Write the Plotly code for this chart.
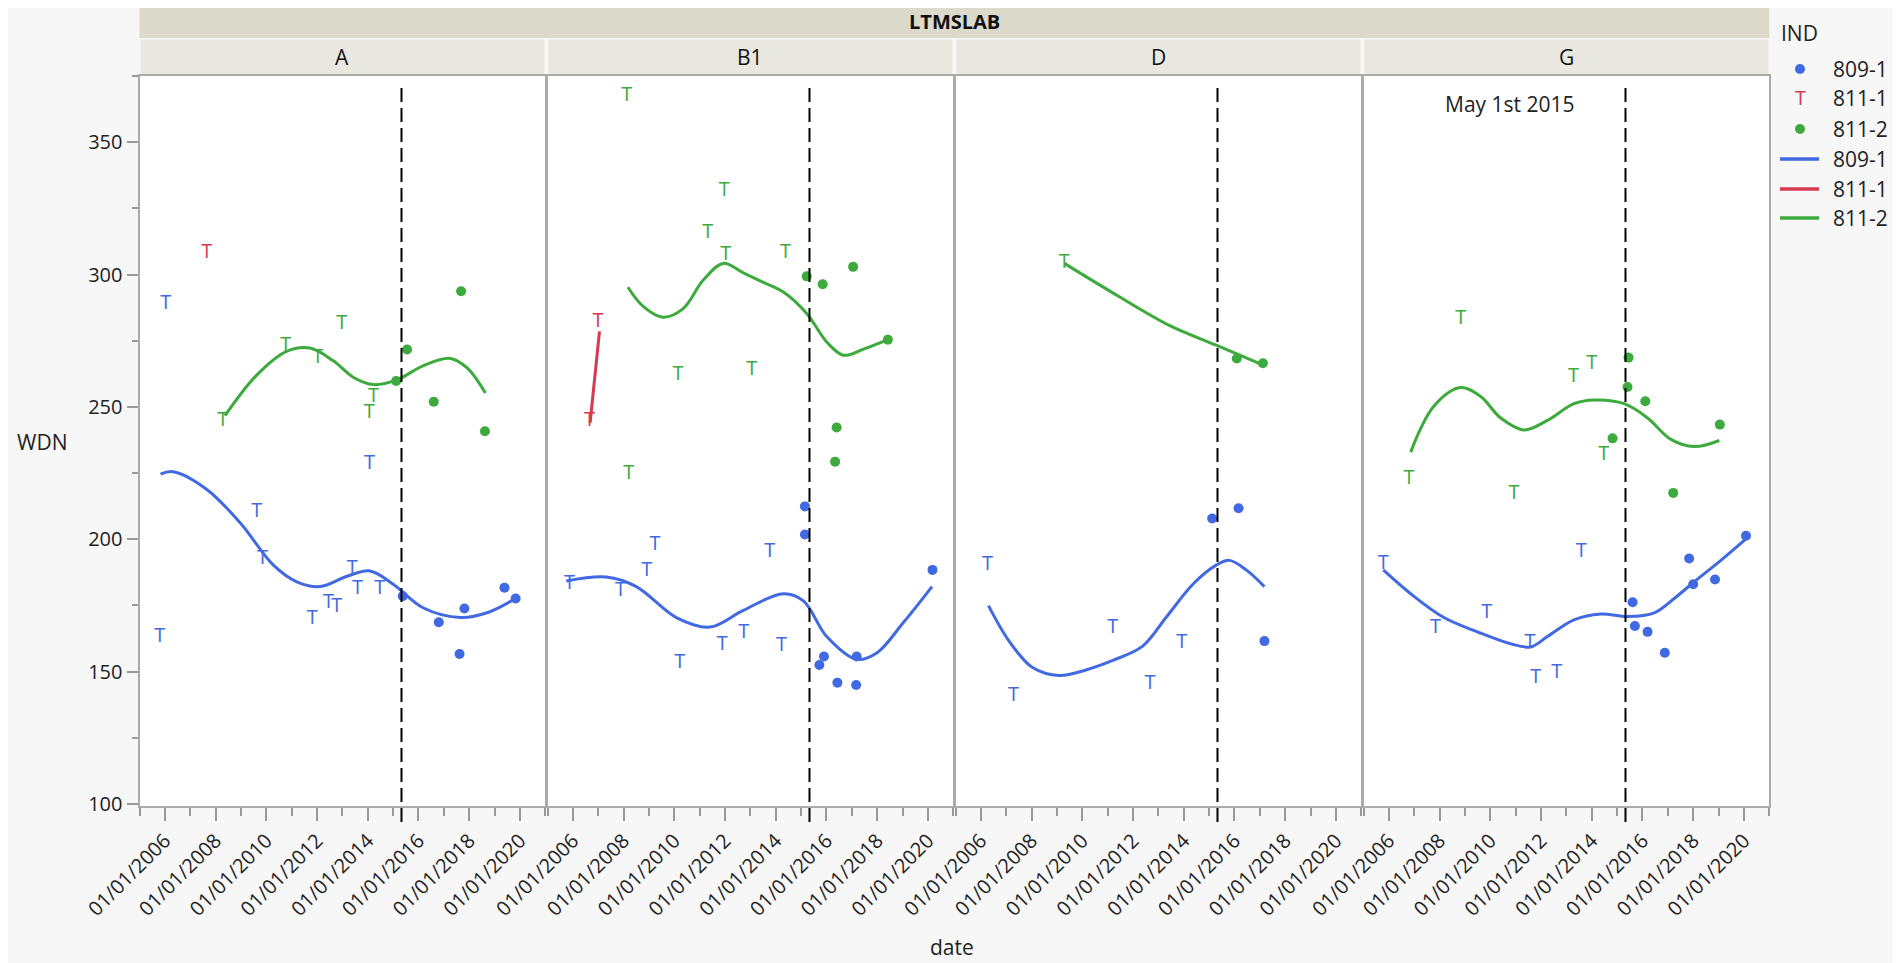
import plotly.graph_objects as go

# page is 1901x963; the html body adds an 8px margin, so the figure is a bit smaller
PAGE_W, PAGE_H, OFF = 1901, 963, 8
W, H = PAGE_W - OFF, PAGE_H - OFF

panel_names = ["A", "B1", "D", "G"]
tick_years = [2006, 2008, 2010, 2012, 2014, 2016, 2018, 2020]
tick_text = ["01/01/%d" % y for y in tick_years]
may_1_2015 = 2015.33

blue = "#4169e1"
red = "#d63a50"
green = "#3caa3c"

# ---- panel A ----
a_809_t_x = [2006.04, 2005.80, 2009.62, 2009.85, 2011.81, 2012.45, 2012.78, 2013.39, 2013.60, 2014.47, 2014.07]
a_809_t_y = [288.9, 163.2, 210.3, 192.5, 169.9, 175.8, 174.4, 188.9, 181.2, 181.2, 228.6]
a_809_dot_x = [2015.38, 2016.80, 2017.62, 2017.81, 2019.39, 2019.83]
a_809_dot_y = [178.5, 168.6, 156.6, 173.8, 181.7, 177.6]
a_809_fit_x = [2005.83, 2006.33, 2007.64, 2008.96, 2010.28, 2011.2, 2012.12, 2013.18, 2014.09, 2015.0, 2016.2, 2017.65, 2018.7, 2019.83]
a_809_fit_y = [224.6, 225.5, 218.9, 206.3, 190.2, 183.9, 182.1, 186.0, 188.0, 183.0, 174.0, 170.4, 172.2, 177.6]

a_8111_t_x = [2007.65]
a_8111_t_y = [308.1]

a_8112_t_x = [2008.28, 2010.77, 2012.03, 2012.97, 2014.23, 2014.06]
a_8112_t_y = [244.6, 273.1, 268.3, 281.4, 253.7, 247.6]
a_8112_dot_x = [2015.12, 2015.55, 2016.6, 2017.68, 2018.62]
a_8112_dot_y = [259.8, 271.7, 251.9, 293.7, 240.8]
a_8112_fit_x = [2008.37, 2009.62, 2010.8, 2011.72, 2012.64, 2013.44, 2014.23, 2015.15, 2016.2, 2017.26, 2017.92, 2018.64]
a_8112_fit_y = [246.7, 262.0, 271.0, 272.2, 267.4, 261.1, 258.4, 260.2, 265.6, 268.3, 264.7, 255.2]

# ---- panel B1 ----
b_809_t_x = [2005.87, 2007.88, 2008.91, 2009.24, 2010.21, 2011.89, 2012.74, 2013.76, 2014.23]
b_809_t_y = [183.0, 180.3, 188.0, 197.7, 153.4, 160.2, 164.5, 195.2, 159.7]
b_809_dot_x = [2015.15, 2015.15, 2015.72, 2015.9, 2016.43, 2017.19, 2017.17, 2020.18]
b_809_dot_y = [212.4, 201.8, 152.5, 155.7, 145.8, 155.7, 144.9, 188.4]
b_809_fit_x = [2005.74, 2007.32, 2008.5, 2010.08, 2011.4, 2012.72, 2014.3, 2015.09, 2016.01, 2017.19, 2017.98, 2019.04, 2020.16]
b_809_fit_y = [184.2, 185.7, 182.1, 170.4, 166.8, 173.1, 179.4, 176.7, 163.2, 154.6, 157.0, 168.6, 182.1]

b_8111_t_x = [2006.66, 2006.99]
b_8111_t_y = [244.6, 282.1]
b_8111_fit_x = [2006.68, 2007.05]
b_8111_fit_y = [244.0, 278.5]

b_8112_t_x = [2008.13, 2011.97, 2011.32, 2012.03, 2014.38, 2010.15, 2013.05, 2008.2]
b_8112_t_y = [367.5, 331.4, 315.8, 307.2, 308.3, 262.0, 264.1, 224.6]
b_8112_dot_x = [2015.22, 2015.85, 2017.05, 2018.42, 2016.4, 2016.34]
b_8112_dot_y = [299.3, 296.3, 302.9, 275.4, 242.2, 229.3]
b_8112_fit_x = [2008.17, 2008.77, 2009.56, 2010.35, 2011.14, 2011.93, 2012.72, 2013.51, 2014.3, 2015.22, 2016.01, 2016.67, 2017.46, 2018.42]
b_8112_fit_y = [295.2, 288.0, 283.9, 287.1, 297.9, 304.2, 300.6, 297.0, 293.4, 285.3, 274.5, 269.5, 271.8, 275.4]

# ---- panel D ----
d_809_t_x = [2006.26, 2007.29, 2011.2, 2012.67, 2013.92]
d_809_t_y = [190.2, 140.8, 166.3, 145.3, 160.9]
d_809_dot_x = [2015.12, 2016.16, 2017.18]
d_809_dot_y = [207.8, 211.7, 161.5]
d_809_fit_x = [2006.3, 2007.12, 2008.04, 2009.09, 2010.14, 2011.2, 2012.38, 2013.3, 2014.36, 2015.28, 2015.8, 2016.46, 2017.18]
d_809_fit_y = [174.9, 161.4, 151.5, 148.5, 150.6, 154.2, 159.6, 170.4, 183.0, 190.2, 192.0, 188.4, 182.1]

d_8112_t_x = [2009.29]
d_8112_t_y = [304.2]
d_8112_dot_x = [2016.09, 2017.12]
d_8112_dot_y = [268.3, 266.5]
d_8112_fit_x = [2009.29, 2011.46, 2013.43, 2015.28, 2017.18]
d_8112_fit_y = [304.2, 291.6, 280.8, 273.3, 265.6]

# ---- panel G ----
g_809_t_x = [2005.78, 2007.84, 2009.86, 2011.57, 2011.79, 2012.62, 2013.59]
g_809_t_y = [190.7, 166.5, 172.2, 160.6, 147.5, 149.4, 195.2]
g_809_dot_x = [2015.61, 2015.7, 2016.2, 2016.88, 2017.84, 2018.0, 2018.86, 2020.08]
g_809_dot_y = [176.2, 167.2, 165.0, 157.1, 192.7, 183.0, 184.8, 201.3]
g_809_fit_x = [2005.78, 2006.86, 2008.17, 2009.49, 2010.8, 2011.59, 2012.25, 2013.3, 2014.36, 2015.41, 2016.46, 2017.25, 2018.04, 2019.09, 2020.08]
g_809_fit_y = [188.4, 179.4, 170.4, 165.0, 160.5, 159.3, 163.2, 169.5, 171.7, 170.8, 172.2, 177.6, 183.9, 192.0, 200.1]

g_8112_t_x = [2008.83, 2006.79, 2010.93, 2013.28, 2014.0, 2014.47]
g_8112_t_y = [283.2, 222.8, 217.1, 261.1, 266.3, 231.8]
g_8112_dot_x = [2014.82, 2015.45, 2015.41, 2016.11, 2017.21, 2019.05]
g_8112_dot_y = [238.1, 268.6, 257.5, 252.1, 217.5, 243.3]
g_8112_fit_x = [2006.86, 2007.78, 2008.83, 2009.62, 2010.41, 2011.33, 2012.25, 2013.3, 2014.09, 2015.28, 2016.2, 2017.12, 2018.04, 2019.03]
g_8112_fit_y = [232.9, 250.3, 257.3, 253.9, 245.8, 241.3, 244.9, 251.2, 252.6, 251.2, 245.8, 237.7, 235.0, 237.3]

# (panel index, colour, T x, T y, dot x, dot y, fit x, fit y)
series = [
    (1, blue, a_809_t_x, a_809_t_y, a_809_dot_x, a_809_dot_y, a_809_fit_x, a_809_fit_y),
    (1, red, a_8111_t_x, a_8111_t_y, [], [], [], []),
    (1, green, a_8112_t_x, a_8112_t_y, a_8112_dot_x, a_8112_dot_y, a_8112_fit_x, a_8112_fit_y),
    (2, blue, b_809_t_x, b_809_t_y, b_809_dot_x, b_809_dot_y, b_809_fit_x, b_809_fit_y),
    (2, red, b_8111_t_x, b_8111_t_y, [], [], b_8111_fit_x, b_8111_fit_y),
    (2, green, b_8112_t_x, b_8112_t_y, b_8112_dot_x, b_8112_dot_y, b_8112_fit_x, b_8112_fit_y),
    (3, blue, d_809_t_x, d_809_t_y, d_809_dot_x, d_809_dot_y, d_809_fit_x, d_809_fit_y),
    (3, green, d_8112_t_x, d_8112_t_y, d_8112_dot_x, d_8112_dot_y, d_8112_fit_x, d_8112_fit_y),
    (4, blue, g_809_t_x, g_809_t_y, g_809_dot_x, g_809_dot_y, g_809_fit_x, g_809_fit_y),
    (4, green, g_8112_t_x, g_8112_t_y, g_8112_dot_x, g_8112_dot_y, g_8112_fit_x, g_8112_fit_y),
]

FONT = "Open Sans"


# page pixel -> paper fraction
def fx(px):
    return (px - OFF) / W


def fy(py):
    return 1 - (py - OFF) / H


def label(text, x, y, size=21, color="#222", xanchor="center", xref="paper", yref="paper"):
    return dict(text=text, xref=xref, yref=yref, x=x, y=y, xanchor=xanchor, yanchor="middle",
                showarrow=False, font=dict(family=FONT, size=size, color=color))


fig = go.Figure()

for i, col, tx, ty, dx, dy, lx, ly in series:
    xa = "x" if i == 1 else "x%d" % i
    ya = "y" if i == 1 else "y%d" % i
    if lx:
        fig.add_trace(go.Scatter(x=lx, y=ly, mode="lines", xaxis=xa, yaxis=ya,
                                 line=dict(color=col, width=3, shape="spline"),
                                 showlegend=False, hoverinfo="skip"))
    fig.add_trace(go.Scatter(x=tx, y=ty, mode="text", text=["T"] * len(tx), xaxis=xa, yaxis=ya,
                             textfont=dict(family=FONT, size=20, color=col),
                             textposition="middle center", showlegend=False))
    if dx:
        fig.add_trace(go.Scatter(x=dx, y=dy, mode="markers", xaxis=xa, yaxis=ya,
                                 marker=dict(color=col, size=10),
                                 showlegend=False))

# panel layout (page px)
left0, pw, gap = 139.5, 405.8, 2.2
top, bottom = 76, 806
panels_px = [(left0 + k * (pw + gap), left0 + k * (pw + gap) + pw) for k in range(4)]

layout = dict(
    width=W, height=H, autosize=False,
    margin=dict(l=0, r=0, t=0, b=0, pad=0),
    paper_bgcolor="#f7f7f7", plot_bgcolor="white",
    font=dict(family=FONT, color="#222"),
    showlegend=False,
)
for k, (x0, x1) in enumerate(panels_px):
    n = "" if k == 0 else str(k + 1)
    layout["xaxis" + n] = dict(
        domain=[fx(x0), fx(x1)], range=[2005, 2021], anchor="y" + n, automargin=False,
        tickmode="array", tickvals=tick_years, ticktext=tick_text, tickangle=-45,
        ticks="outside", ticklen=13, tickwidth=1.5, tickcolor="#999",
        minor=dict(tick0=2005, dtick=1, ticks="outside", ticklen=8, tickcolor="#999", tickwidth=1.5),
        tickfont=dict(size=20, color="#222"),
        showline=True, mirror=True, linecolor="#aaa", linewidth=2,
        showgrid=False, zeroline=False,
    )
    ya = dict(
        domain=[fy(bottom), fy(top)], range=[99.2, 375], anchor="x" + n, automargin=False,
        showline=True, mirror=True, linecolor="#aaa", linewidth=2,
        showgrid=False, zeroline=False,
    )
    if k == 0:
        ya.update(tickmode="array", tickvals=[100, 150, 200, 250, 300, 350],
                  ticks="outside", ticklen=11, tickwidth=1.5, tickcolor="#999",
                  minor=dict(tick0=125, dtick=50, ticks="outside", ticklen=6, tickcolor="#999", tickwidth=1.5),
                  tickfont=dict(size=20, color="#222"))
    else:
        ya.update(matches="y", showticklabels=False, ticks="")
    layout["yaxis" + n] = ya
fig.update_layout(**layout)

shapes = []
annotations = []

# group header band and panel label bands
shapes.append(dict(type="rect", xref="paper", yref="paper",
                   x0=fx(panels_px[0][0]), x1=fx(panels_px[-1][1]), y0=fy(38), y1=fy(3),
                   fillcolor="#dcdacb", line=dict(width=0), layer="below"))
annotations.append(label("<b>LTMSLAB</b>", fx((panels_px[0][0] + panels_px[-1][1]) / 2), fy(22),
                         size=20, color="#111"))
for k, (x0, x1) in enumerate(panels_px):
    shapes.append(dict(type="rect", xref="paper", yref="paper",
                       x0=fx(x0 + 1), x1=fx(x1 - 1), y0=fy(74), y1=fy(39.5),
                       fillcolor="#e8e8e0", line=dict(width=0), layer="below"))
    annotations.append(label(panel_names[k], fx((x0 + x1) / 2), fy(57), color="#111"))
    xr = "x" if k == 0 else "x%d" % (k + 1)
    shapes.append(dict(type="line", xref=xr, yref="paper", x0=may_1_2015, x1=may_1_2015,
                       y0=fy(822), y1=fy(83), line=dict(color="black", width=2, dash="14px,6px")))

annotations.append(label("May 1st 2015", 2010.76, 364.3, xref="x4", yref="y4"))
annotations.append(label("WDN", fx(42), fy(442)))
annotations.append(label("date", fx(952), fy(947)))

# legend (IND)
annotations.append(label("IND", fx(1779), fy(33), xanchor="left"))
legend_labels = ["809-1", "811-1", "811-2", "809-1", "811-1", "811-2"]
legend_cols = [blue, red, green, blue, red, green]
legend_rows = [69, 98, 129, 159, 189, 218]
for j, (lab, col, ry) in enumerate(zip(legend_labels, legend_cols, legend_rows)):
    annotations.append(label(lab, fx(1831), fy(ry), xanchor="left"))
    if j == 1:
        annotations.append(label("T", fx(1800), fy(ry), size=20, color=col))
    elif j < 3:
        shapes.append(dict(type="circle", xref="paper", yref="paper",
                           x0=fx(1795), x1=fx(1805), y0=fy(ry + 5), y1=fy(ry - 5),
                           fillcolor=col, line=dict(width=0)))
    else:
        shapes.append(dict(type="line", xref="paper", yref="paper",
                           x0=fx(1780), x1=fx(1819), y0=fy(ry), y1=fy(ry),
                           line=dict(color=col, width=3.5)))

fig.update_layout(shapes=shapes, annotations=annotations)
fig.write_html("out.html")
